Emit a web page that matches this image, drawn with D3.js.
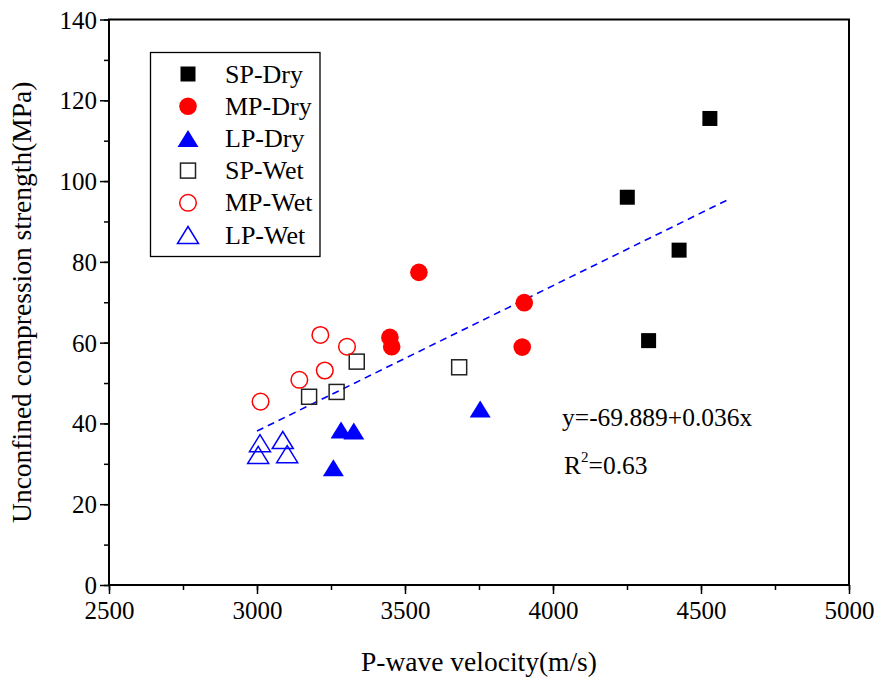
<!DOCTYPE html>
<html>
<head>
<meta charset="utf-8">
<script src="https://cdn.jsdelivr.net/npm/d3@7"></script>
<style>
  html, body { margin: 0; padding: 0; background: #fff; }
  svg text { font-family: "Liberation Serif", "Times New Roman", serif; fill: #000; }
</style>
</head>
<body>
<svg id="chart" width="882" height="686"></svg>
<script>
// ---- data ----
const seriesNames = ["SP-Dry", "MP-Dry", "LP-Dry", "SP-Wet", "MP-Wet", "LP-Wet"];
const spDry = [[4530, 115.5], [4251, 96.0], [4426, 82.9], [4323, 60.5]];
const mpDry = [[3547, 77.4], [3449, 61.3], [3455, 59.0], [3903, 69.9], [3896, 58.9]];
const lpDry = [[3284, 38.4], [3327, 38.1], [3258, 29.0], [3754, 43.6]];
const spWet = [[3176, 46.6], [3269, 47.8], [3337, 55.3], [3683, 53.9]];
const mpWet = [[3012, 45.4], [3143, 50.8], [3214, 61.9], [3229, 53.1], [3304, 59.0]];
const lpWet = [[3010, 35.1], [3004, 32.2], [3087, 35.9], [3102, 32.4]];
const fitIntercept = -69.889;
const fitSlope = 0.036;
const fitRange = [3000, 4595];
const xTicks = [2500, 3000, 3500, 4000, 4500, 5000];
const yTicks = [0, 20, 40, 60, 80, 100, 120, 140];
const xTitle = "P-wave velocity(m/s)";
const yTitle = "Unconfined compression strength(MPa)";
const eqText = "y=-69.889+0.036x";
const r2Value = "0.63";

// ---- layout ----
const svg = d3.select("#chart");
const L = 109, R = 849, T = 19.5, B = 585;
const x = d3.scaleLinear().domain([2500, 5000]).range([L, R]);
const y = d3.scaleLinear().domain([0, 140]).range([B, T]);
const FONT = "Liberation Serif";

const styles = {
  "SP-Dry": { shape: "square", fill: "#000", stroke: "none" },
  "MP-Dry": { shape: "circle", fill: "#ff0000", stroke: "none" },
  "LP-Dry": { shape: "triangle", fill: "#0000ff", stroke: "none" },
  "SP-Wet": { shape: "square", fill: "none", stroke: "#222" },
  "MP-Wet": { shape: "circle", fill: "none", stroke: "#ff0000" },
  "LP-Wet": { shape: "triangle", fill: "none", stroke: "#0000ff" }
};
const seriesData = { "SP-Dry": spDry, "MP-Dry": mpDry, "LP-Dry": lpDry, "SP-Wet": spWet, "MP-Wet": mpWet, "LP-Wet": lpWet };

function drawMarker(g, shape, cx, cy, st) {
  let el;
  if (shape === "square") {
    el = g.append("rect").attr("x", cx - 7.5).attr("y", cy - 7.5).attr("width", 15).attr("height", 15);
  } else if (shape === "circle") {
    el = g.append("circle").attr("cx", cx).attr("cy", cy).attr("r", st.fill === "none" ? 8.3 : 8.8);
  } else {
    const w = 10.5, h = 17;
    el = g.append("path").attr("d", `M${cx},${cy - h / 2}L${cx + w},${cy + h / 2}L${cx - w},${cy + h / 2}Z`);
  }
  el.attr("fill", st.fill).attr("stroke", st.stroke).attr("stroke-width", st.stroke === "none" ? 0 : 1.5);
  return el;
}

// ---- axes ----
const xMinor = d3.range(2500, 5001, 250);
const yMinor = d3.range(0, 141, 10);
const axG = svg.append("g");
axG.append("g").attr("transform", `translate(0,${B})`)
  .call(d3.axisBottom(x).tickValues(xMinor).tickSize(5).tickFormat(""))
  .call(g => g.select(".domain").remove())
  .selectAll("line").attr("stroke", "#000").attr("stroke-width", 1.5);
axG.append("g").attr("transform", `translate(0,${B})`)
  .call(d3.axisBottom(x).tickValues(xTicks).tickSize(9).tickPadding(7).tickFormat(d3.format("d")))
  .call(g => g.select(".domain").remove())
  .call(g => g.selectAll("line").attr("stroke", "#000").attr("stroke-width", 1.5))
  .call(g => g.selectAll("text").attr("font-size", 25).attr("font-family", FONT).attr("fill", "#000"));
axG.append("g").attr("transform", `translate(${L},0)`)
  .call(d3.axisLeft(y).tickValues(yMinor).tickSize(5).tickFormat(""))
  .call(g => g.select(".domain").remove())
  .selectAll("line").attr("stroke", "#000").attr("stroke-width", 1.5);
axG.append("g").attr("transform", `translate(${L},0)`)
  .call(d3.axisLeft(y).tickValues(yTicks).tickSize(9).tickPadding(3).tickFormat(d3.format("d")))
  .call(g => g.select(".domain").remove())
  .call(g => g.selectAll("line").attr("stroke", "#000").attr("stroke-width", 1.5))
  .call(g => g.selectAll("text").attr("font-size", 25).attr("font-family", FONT).attr("fill", "#000").attr("dy", "0.34em"));
svg.append("rect").attr("x", L).attr("y", T).attr("width", R - L).attr("height", B - T)
  .attr("fill", "none").attr("stroke", "#000").attr("stroke-width", 2);

// axis titles
svg.append("text").attr("x", (L + R) / 2).attr("y", 671).attr("text-anchor", "middle")
  .attr("font-size", 27.5).text(xTitle);
svg.append("text").attr("transform", `translate(31,${(T + B) / 2}) rotate(-90)`)
  .attr("text-anchor", "middle").attr("font-size", 27.5).text(yTitle);

// ---- fit line ----
const line = d3.line().x(d => x(d)).y(d => y(fitIntercept + fitSlope * d));
svg.append("path").datum(fitRange).attr("d", line)
  .attr("fill", "none").attr("stroke", "#0000ff").attr("stroke-width", 1.6).attr("stroke-dasharray", "7,5");

// ---- points ----
const ptsG = svg.append("g");
seriesNames.forEach(name => {
  const st = styles[name];
  seriesData[name].forEach(d => drawMarker(ptsG, st.shape, x(d[0]), y(d[1]), st));
});

// ---- legend ----
const lg = svg.append("g");
lg.append("rect").attr("x", 150.5).attr("y", 52.5).attr("width", 169.5).attr("height", 204)
  .attr("fill", "#fff").attr("stroke", "#000").attr("stroke-width", 1.3);
seriesNames.forEach((name, i) => {
  const cy = 74 + i * 32.2;
  drawMarker(lg, styles[name].shape, 188, cy, styles[name]);
  lg.append("text").attr("x", 225).attr("y", cy + 8.5).attr("font-size", 26).text(name);
});

// ---- annotations ----
svg.append("text").attr("x", 562).attr("y", 426).attr("font-size", 25.5).text(eqText);
const r2 = svg.append("text").attr("x", 564).attr("y", 474).attr("font-size", 25.5);
r2.append("tspan").text("R");
r2.append("tspan").attr("font-size", 15).attr("dy", -12).text("2");
r2.append("tspan").attr("dy", 12).text("=" + r2Value);
</script>
</body>
</html>
